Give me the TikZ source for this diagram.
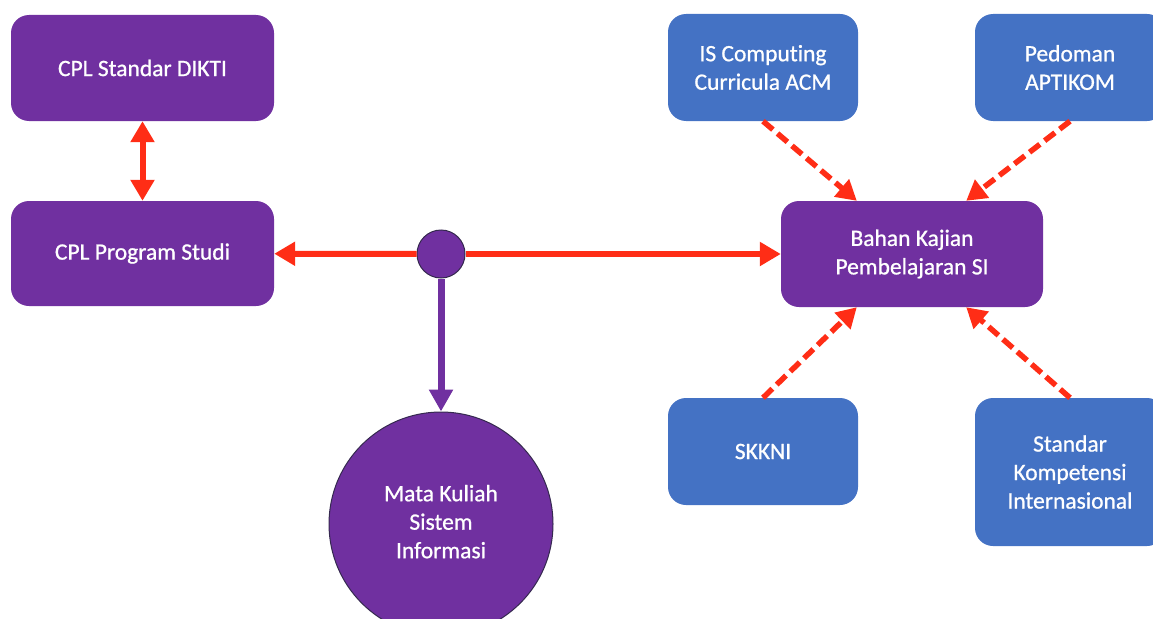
\documentclass[tikz,border=0pt]{standalone}
\usepackage{fontspec}
\setmainfont{Carlito}[Ligatures={NoCommon}, FakeBold=0.8]
\usetikzlibrary{arrows.meta}
\definecolor{cpurple}{HTML}{7030A0}
\definecolor{cblue}{HTML}{4472C4}
\definecolor{cred}{HTML}{FF2D16}
\definecolor{cedge}{HTML}{35294F}
\begin{document}
\begin{tikzpicture}[x=1pt,y=-1pt,
  box/.style={rectangle, rounded corners=18pt, text=white, align=center, inner sep=0pt,
    font=\fontsize{23.5}{28.5}\selectfont},
  pbox/.style={box, fill=cpurple},
  bbox/.style={box, fill=cblue},
  redarrow/.style={draw=cred, line width=6pt, -{Triangle[length=21pt,width=23pt]}},
  dasharrow/.style={draw=cred, line width=5.5pt, dash pattern=on 13pt off 6pt,
    -{Triangle[length=20pt,width=22pt]}},
  purplearrow/.style={draw=cpurple, line width=7pt, -{Triangle[length=22pt,width=23pt]}}
]
\useasboundingbox (0,0) rectangle (1153,618);
\clip (0,0) rectangle (1153,618);

\node[pbox, minimum width=263pt, minimum height=106pt] (dikti) at (142.5,68) {CPL Standar DIKTI};
\node[pbox, minimum width=263pt, minimum height=105pt] (prodi) at (142.5,253.5) {CPL Program Studi};
\node[pbox, minimum width=262pt, minimum height=106pt] (bahan) at (912,254) {Bahan Kajian\\Pembelajaran SI};
\node[bbox, minimum width=190pt, minimum height=107pt] (is) at (763,67.5) {IS Computing\\Curricula ACM};
\node[bbox, minimum width=190pt, minimum height=107pt] (ped) at (1070,67.5) {Pedoman\\APTIKOM};
\node[bbox, minimum width=190pt, minimum height=107pt] (skkni) at (763,451.5) {SKKNI};
\node[bbox, minimum width=190pt, minimum height=148pt] (intl) at (1070,472) {Standar\\Kompetensi\\Internasional};

\node[circle, fill=cpurple, draw=cedge, line width=1pt, minimum size=48pt, inner sep=0pt] (hub) at (441,254) {};
\node[circle, fill=cpurple, draw=cedge, line width=1pt, minimum size=224pt, inner sep=0pt,
  text=white, align=center, font=\fontsize{23.5}{28.5}\selectfont] (mk) at (441,524)
  {\raisebox{5pt}{\begin{tabular}{@{}c@{}}Mata Kuliah\\Sistem\\Informasi\end{tabular}}};

\draw[redarrow, {Triangle[length=21pt,width=23pt]}-{Triangle[length=21pt,width=23pt]}] (dikti) -- (prodi);
\draw[redarrow] (hub) -- (prodi);
\draw[redarrow] (hub) -- (bahan);
\draw[purplearrow] (hub) -- (mk);

\draw[dasharrow] (is.south) -- ([xshift=76pt]bahan.north west);
\draw[dasharrow] (ped.south) -- ([xshift=-77pt]bahan.north east);
\draw[dasharrow] (skkni.north) -- ([xshift=76pt]bahan.south west);
\draw[dasharrow] (intl.north) -- ([xshift=-77pt]bahan.south east);
\end{tikzpicture}
\end{document}
